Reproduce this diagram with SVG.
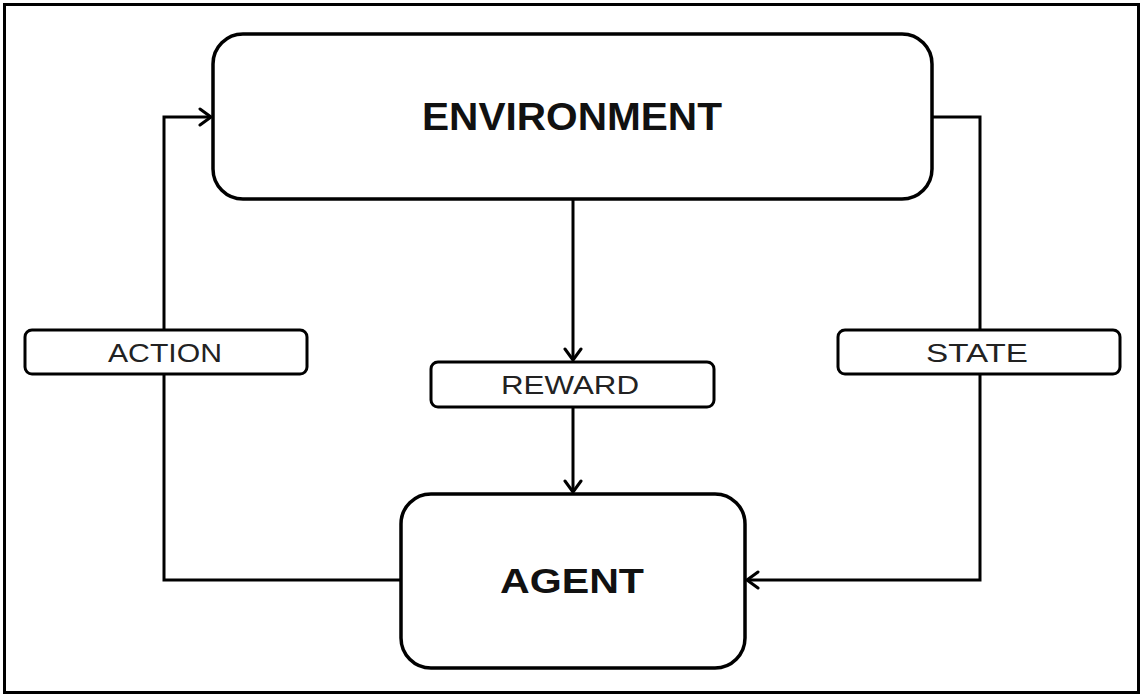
<svg xmlns="http://www.w3.org/2000/svg" width="1142" height="695" viewBox="0 0 1142 695">
<style>
.box{fill:#fff;stroke:#000;stroke-width:3.5}
.lbl{fill:#fff;stroke:#000;stroke-width:3}
.line{fill:none;stroke:#000;stroke-width:3}
.title{font-family:"Liberation Sans",Arial,sans-serif;font-weight:bold;fill:#111}
.ltext{font-family:"Liberation Sans",Arial,sans-serif;font-weight:normal;fill:#222}
</style>
<defs>
<marker id="arr" viewBox="0 0 12 12" refX="11" refY="6" markerWidth="12" markerHeight="12" markerUnits="userSpaceOnUse" orient="auto">
<polyline points="3,1 11,6 3,11" fill="none" stroke="#000" stroke-width="3" stroke-linecap="round" stroke-linejoin="round"/>
</marker>
<marker id="arr2" viewBox="0 0 20 20" refX="17" refY="10" markerWidth="20" markerHeight="20" markerUnits="userSpaceOnUse" orient="auto">
<polyline points="6,2 17,10 6,18" fill="none" stroke="#000" stroke-width="3" stroke-linecap="round" stroke-linejoin="round"/>
</marker>
</defs>
<rect x="4.5" y="4.5" width="1134" height="688" fill="#fff" stroke="#000" stroke-width="3"/>
<g id="connectors">
<polyline class="line" points="401,580 164,580 164,117 211,117" marker-end="url(#arr2)"/>
<polyline class="line" points="932,117 980,117 980,580 747,580" marker-end="url(#arr2)"/>
<line class="line" x1="573" y1="199" x2="573" y2="360" marker-end="url(#arr2)"/>
<line class="line" x1="573" y1="407" x2="573" y2="492" marker-end="url(#arr2)"/>
</g>
<g id="environment">
<rect class="box" x="213" y="34" width="719" height="165" rx="30"/>
<text class="title" x="572" y="130" font-size="38" text-anchor="middle" textLength="300" lengthAdjust="spacingAndGlyphs">ENVIRONMENT</text>
</g>
<g id="agent">
<rect class="box" x="401" y="494" width="344" height="174" rx="30"/>
<text class="title" x="572" y="593" font-size="35" text-anchor="middle" textLength="144" lengthAdjust="spacingAndGlyphs">AGENT</text>
</g>
<g id="action">
<rect class="lbl" x="25" y="330" width="282" height="44" rx="7"/>
<text class="ltext" x="165" y="362" font-size="26" text-anchor="middle" textLength="114" lengthAdjust="spacingAndGlyphs">ACTION</text>
</g>
<g id="reward">
<rect class="lbl" x="431" y="362" width="283" height="45" rx="7"/>
<text class="ltext" x="570" y="394" font-size="26" text-anchor="middle" textLength="138" lengthAdjust="spacingAndGlyphs">REWARD</text>
</g>
<g id="state">
<rect class="lbl" x="838" y="330" width="282" height="44" rx="7"/>
<text class="ltext" x="977" y="362" font-size="26" text-anchor="middle" textLength="102" lengthAdjust="spacingAndGlyphs">STATE</text>
</g>
</svg>
